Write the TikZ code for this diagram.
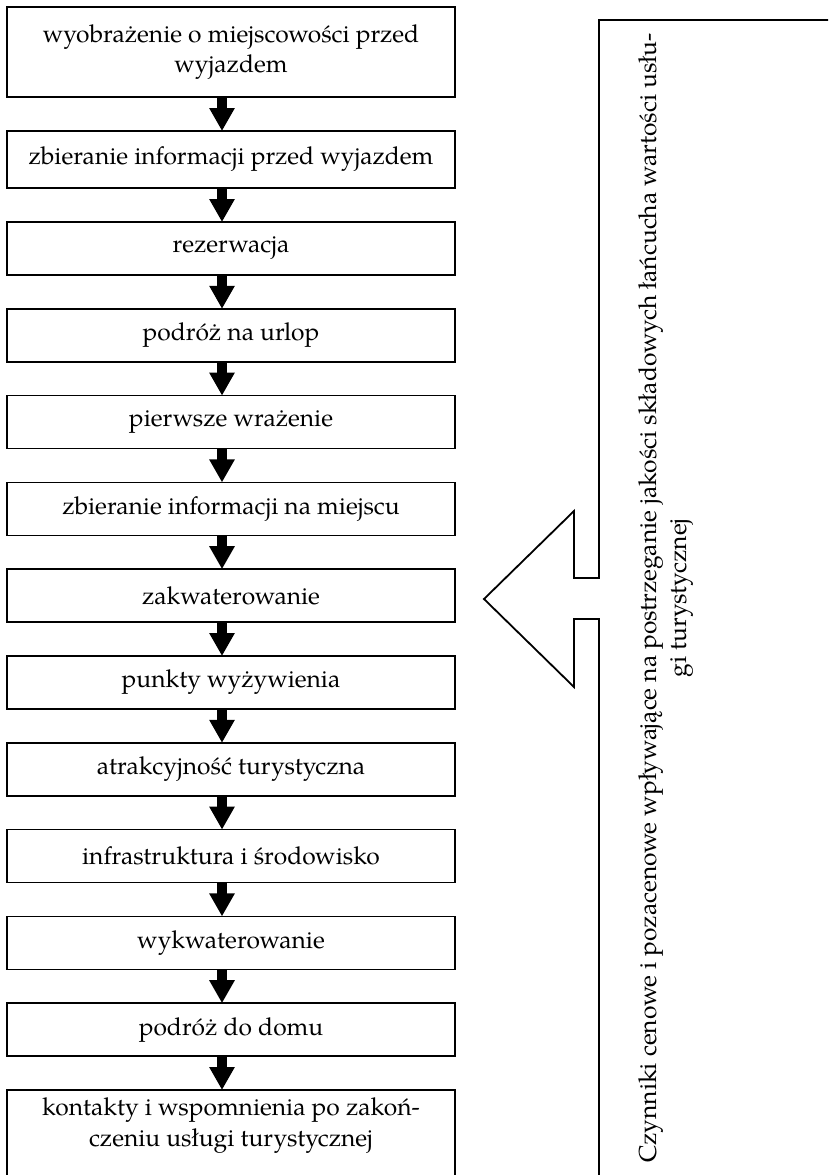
\documentclass[tikz,border=0pt]{standalone}
\usepackage{fontspec}
\setmainfont{TeX Gyre Pagella}
\usetikzlibrary{arrows.meta}
\begin{document}
\begin{tikzpicture}[x=1pt,y=-1pt,
  txt/.style={font=\fontsize{24.6}{30.5}\selectfont},
  stepbox/.style={draw, line width=1.6pt, minimum width=448pt, minimum height=53pt,
    inner sep=0pt, outer sep=0pt, align=center, anchor=north, txt},
  flow/.style={line width=10pt, -{Triangle[width=24pt,length=23pt]}},
  frame/.style={line width=1.8pt, line join=miter}
]
\fill[white] (0,0) rectangle (828,1175);
\useasboundingbox (0,0) rectangle (828,1175);
\clip (0,0) rectangle (828,1175);

\node[stepbox, minimum height=90pt] (b1) at (231,7) {wyobrażenie o miejscowości przed\\wyjazdem};
\node[stepbox, minimum height=57pt] (b2) at (231,131) {zbieranie informacji przed wyjazdem};
\node[stepbox] (b3) at (231,222) {rezerwacja};
\node[stepbox] (b4) at (231,308.8) {podróż na urlop};
\node[stepbox] (b5) at (231,395.6) {pierwsze wrażenie};
\node[stepbox] (b6) at (231,482.4) {zbieranie informacji na miejscu};
\node[stepbox] (b7) at (231,569.2) {zakwaterowanie};
\node[stepbox] (b8) at (231,656) {punkty wyżywienia};
\node[stepbox] (b9) at (231,742.8) {atrakcyjność turystyczna};
\node[stepbox] (b10) at (231,829.6) {infrastruktura i środowisko};
\node[stepbox] (b11) at (231,916.4) {wykwaterowanie};
\node[stepbox] (b12) at (231,1003.2) {podróż do domu};
\node[stepbox, inner ysep=8pt, text depth=80pt] (b13) at (231,1090) {kontakty i wspomnienia po zakoń-\\czeniu usługi turystycznej};

\foreach \a/\b in {b1/b2,b2/b3,b3/b4,b4/b5,b5/b6,b6/b7,b7/b8,b8/b9,b9/b10,b10/b11,b11/b12,b12/b13}
  \draw[flow] ([xshift=-9pt]\a.south) -- ([xshift=-9pt]\b.north);

% big left-pointing block arrow joined to an open frame
\draw[frame] (599,1200) -- (599,619) -- (574,619) -- (574,687) -- (484,599)
  -- (574,511) -- (574,578) -- (599,578) -- (599,20) -- (840,20);

\node[txt, rotate=90, align=center, inner sep=0pt] (factors) at (666,598)
  {Czynniki cenowe i pozacenowe wpływające na postrzeganie jakości składowych łańcucha wartości usłu-\\gi turystycznej};
\end{tikzpicture}
\end{document}
